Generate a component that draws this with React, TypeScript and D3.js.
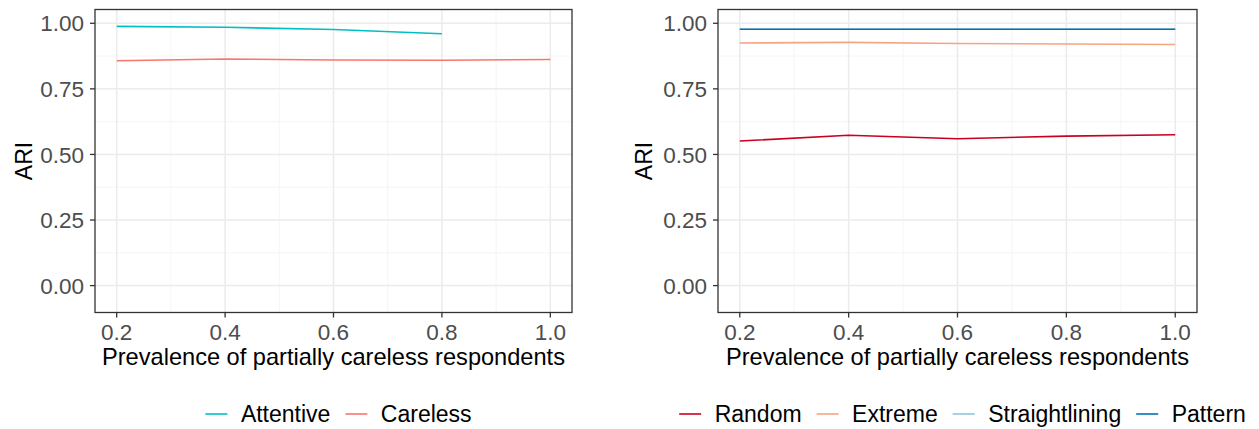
import React from "react";
import * as d3 from "d3";

const prevalence = [0.2, 0.4, 0.6, 0.8, 1.0];
const xTicks = [0.2, 0.4, 0.6, 0.8, 1.0];
const xMinor = [0.3, 0.5, 0.7, 0.9];
const yTicks = [0, 0.25, 0.5, 0.75, 1.0];
const yMinor = [0.125, 0.375, 0.625, 0.875];

const attentive = [0.988, 0.985, 0.976, 0.96, null];
const careless = [0.857, 0.864, 0.86, 0.859, 0.862];

const randomS = [0.551, 0.573, 0.56, 0.57, 0.575];
const extremeS = [0.925, 0.927, 0.923, 0.921, 0.919];
const straightS = [0.977, 0.977, 0.977, 0.977, 0.977];
const patternS = [0.977, 0.977, 0.977, 0.977, 0.977];

const leftSeries = [
  { name: "Attentive", values: attentive, color: "#00BFC4" },
  { name: "Careless", values: careless, color: "#F8766D" },
];
const rightSeries = [
  { name: "Random", values: randomS, color: "#CA0020" },
  { name: "Extreme", values: extremeS, color: "#F4A582" },
  { name: "Straightlining", values: straightS, color: "#92C5DE" },
  { name: "Pattern", values: patternS, color: "#0571B0" },
];

const FONT = "'Liberation Sans', Arial, Helvetica, sans-serif";
const W = 1259;
const H = 429;
const TOP = 9.5;
const BOTTOM = 312.5;

function measure(text: string, size: number) {
  const c = document.createElement("canvas").getContext("2d");
  if (!c) return text.length * size * 0.5;
  c.font = `${size}px ${FONT}`;
  return c.measureText(text).width;
}

function Panel({ x0, x1, series, legendCenter, yTitleX }: any) {
  const x = d3.scaleLinear().domain([0.16, 1.04]).range([x0, x1]);
  const y = d3.scaleLinear().domain([-0.1025, 1.0525]).range([BOTTOM, TOP]);
  const line = d3
    .line<any>()
    .defined((d) => d[1] != null)
    .x((d) => x(d[0]))
    .y((d) => y(d[1]));

  const keyW = 22;
  const keyGap = 13.5;
  const itemGap = 15;
  const fs = 23;
  const widths = series.map((s: any) => keyW + keyGap + measure(s.name, fs));
  const total = d3.sum(widths) + itemGap * (series.length - 1);
  let cursor = legendCenter - total / 2;
  const items = series.map((s: any, i: number) => {
    const start = cursor;
    cursor += widths[i] + itemGap;
    return { ...s, start };
  });

  return (
    <g>
      <rect x={x0} y={TOP} width={x1 - x0} height={BOTTOM - TOP} fill="#FFFFFF" />
      {xMinor.map((t) => (
        <line key={"xm" + t} x1={x(t)} x2={x(t)} y1={TOP} y2={BOTTOM} stroke="#F2F2F2" strokeWidth={0.8} />
      ))}
      {yMinor.map((t) => (
        <line key={"ym" + t} x1={x0} x2={x1} y1={y(t)} y2={y(t)} stroke="#F2F2F2" strokeWidth={0.8} />
      ))}
      {xTicks.map((t) => (
        <line key={"xg" + t} x1={x(t)} x2={x(t)} y1={TOP} y2={BOTTOM} stroke="#EBEBEB" strokeWidth={1.5} />
      ))}
      {yTicks.map((t) => (
        <line key={"yg" + t} x1={x0} x2={x1} y1={y(t)} y2={y(t)} stroke="#EBEBEB" strokeWidth={1.5} />
      ))}
      {series.map((s: any) => (
        <path
          key={s.name}
          d={line(prevalence.map((p, i) => [p, s.values[i]])) || ""}
          fill="none"
          stroke={s.color}
          strokeWidth={1.6}
        />
      ))}
      <rect x={x0} y={TOP} width={x1 - x0} height={BOTTOM - TOP} fill="none" stroke="#333333" strokeWidth={1.3} />
      {yTicks.map((t) => (
        <g key={"yt" + t}>
          <line x1={x0 - 5} x2={x0} y1={y(t)} y2={y(t)} stroke="#333333" strokeWidth={1.3} />
          <text x={x0 - 11} y={y(t)} dy="0.36em" textAnchor="end" fontSize={22.5} fill="#4D4D4D" fontFamily={FONT}>
            {t.toFixed(2)}
          </text>
        </g>
      ))}
      {xTicks.map((t) => (
        <g key={"xt" + t}>
          <line x1={x(t)} x2={x(t)} y1={BOTTOM} y2={BOTTOM + 5} stroke="#333333" strokeWidth={1.3} />
          <text x={x(t)} y={339.5} textAnchor="middle" fontSize={22.5} fill="#4D4D4D" fontFamily={FONT}>
            {t.toFixed(1)}
          </text>
        </g>
      ))}
      <text x={(x0 + x1) / 2} y={365} textAnchor="middle" fontSize={23.6} fill="#000000" fontFamily={FONT}>
        Prevalence of partially careless respondents
      </text>
      <text
        transform={`translate(${yTitleX},${(TOP + BOTTOM) / 2}) rotate(-90)`}
        textAnchor="middle"
        fontSize={23}
        fill="#000000"
        fontFamily={FONT}
      >
        ARI
      </text>
      {items.map((it: any) => (
        <g key={"lg" + it.name}>
          <line x1={it.start} x2={it.start + keyW} y1={414} y2={414} stroke={it.color} strokeWidth={1.6} />
          <text x={it.start + keyW + keyGap} y={421.8} fontSize={fs} fill="#000000" fontFamily={FONT}>
            {it.name}
          </text>
        </g>
      ))}
    </g>
  );
}

export default function App() {
  return (
    <svg width={W} height={H} style={{ position: "absolute", left: 0, top: 0, background: "#FFFFFF" }}>
      <rect x={0} y={0} width={W} height={H} fill="#FFFFFF" />
      <Panel x0={95} x1={572} series={leftSeries} legendCenter={338.5} yTitleX={32} />
      <Panel x0={718} x1={1197} series={rightSeries} legendCenter={962.5} yTitleX={652} />
    </svg>
  );
}
